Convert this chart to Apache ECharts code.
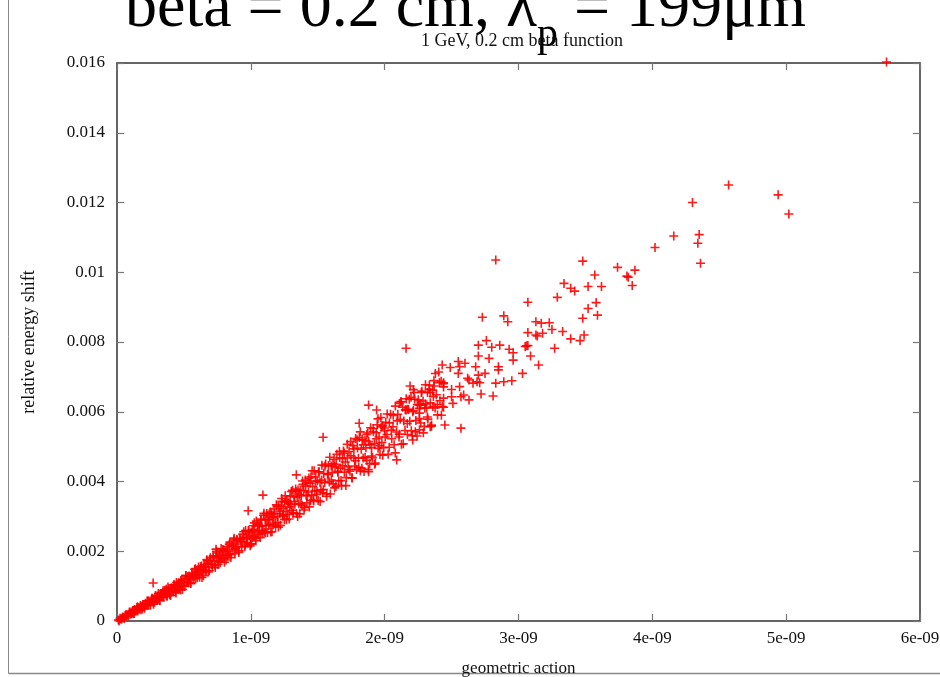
<!DOCTYPE html>
<html>
<head>
<meta charset="utf-8">
<script src="https://cdn.jsdelivr.net/npm/echarts@6/dist/echarts.min.js"></script>
<style>
html,body{margin:0;padding:0;background:#fff;}
#chart{width:940px;height:677px;}
</style>
</head>
<body>
<div id="chart"></div>
<script>
// Units in the arrays: action in 1e-9, energy shift in 1e-3 (converted when building the series)
const slideTitle = ['beta = 0.2 cm, \u03bb', 'p', ' = 199\u03bcm'];
const chartTitle = '1 GeV, 0.2 cm beta function';
const xAxisName = 'geometric action';
const yAxisName = 'relative energy shift';
const xTickLabels = ['0', '1e-09', '2e-09', '3e-09', '4e-09', '5e-09', '6e-09'];
const yTickLabels = ['0', '0.002', '0.004', '0.006', '0.008', '0.01', '0.012', '0.014', '0.016'];

// dense band, action 0 .. 0.5 (1e-9), shift (1e-3)
const bandA = [
 [0.010,0.03],[0.016,0.01],[0.023,0.08],[0.027,0.055],[0.036,0.054],[0.041,0.114],[0.049,0.107],
 [0.054,0.075],[0.060,0.152],[0.068,0.186],[0.073,0.142],[0.079,0.18],[0.086,0.15],[0.092,0.256],
 [0.098,0.203],[0.105,0.261],[0.111,0.212],[0.118,0.273],[0.122,0.209],[0.130,0.329],[0.136,0.30],
 [0.141,0.28],[0.149,0.39],[0.155,0.29],[0.160,0.378],[0.168,0.355],[0.174,0.44],[0.179,0.324],
 [0.187,0.424],[0.193,0.474],[0.198,0.407],[0.206,0.363],[0.212,0.506],[0.217,0.482],[0.225,0.441],
 [0.231,0.573],[0.237,0.574],[0.244,0.532],[0.250,0.452],[0.256,0.603],[0.263,0.654],[0.268,0.548],
 [0.275,0.616],[0.281,0.539],[0.287,0.733],[0.294,0.619],[0.300,0.715],[0.306,0.61],[0.313,0.711],
 [0.318,0.589],[0.325,0.792],[0.331,0.728],[0.337,0.687],[0.344,0.867],[0.350,0.682],[0.356,0.826],
 [0.362,0.77],[0.369,0.915],[0.375,0.707],[0.381,0.858],[0.388,0.934],[0.393,0.816],[0.400,0.734],
 [0.406,0.955],[0.412,0.912],[0.419,0.834],[0.425,1.036],[0.431,0.984],[0.437,0.835],[0.444,1.103],
 [0.450,0.966],[0.456,0.902],[0.462,1.10],[0.469,1.022],[0.475,0.886],[0.481,1.121],[0.487,1.191],
 [0.494,1.02],[0.500,1.115],[0.27,1.09],
 [0.105,0.2],[0.117,0.303],[0.129,0.217],[0.141,0.318],[0.153,0.408],[0.165,0.34],[0.177,0.429],
 [0.189,0.345],[0.201,0.471],[0.213,0.459],[0.225,0.576],[0.237,0.455],[0.249,0.548],[0.261,0.636],
 [0.273,0.481],[0.285,0.651],[0.297,0.605],[0.309,0.786],[0.321,0.591],[0.333,0.785],[0.345,0.732],
 [0.357,0.882],[0.369,0.725],[0.381,0.977],[0.393,0.752],[0.405,0.929],[0.417,0.862],[0.429,1.039],
 [0.441,0.805],[0.453,1.005],[0.465,0.937],[0.477,1.163],[0.489,0.906]
];
// dense band, action 0.5 .. 1.0
const bandB = [
 [0.507,0.993],[0.514,1.297],[0.521,1.114],[0.529,1.264],[0.536,1.103],[0.543,1.252],[0.551,1.072],
 [0.558,1.374],[0.565,1.278],[0.573,1.219],[0.580,1.483],[0.587,1.21],[0.595,1.425],[0.602,1.343],
 [0.609,1.55],[0.617,1.251],[0.624,1.469],[0.631,1.575],[0.639,1.414],[0.646,1.296],[0.653,1.61],
 [0.661,1.553],[0.668,1.442],[0.675,1.723],[0.683,1.654],[0.690,1.449],[0.697,1.817],[0.705,1.633],
 [0.712,1.547],[0.719,1.819],[0.727,1.714],[0.734,1.531],[0.741,1.85],[0.749,1.949],[0.756,1.717],
 [0.763,1.846],[0.771,1.68],[0.778,2.078],[0.785,1.829],[0.793,2.021],[0.800,1.801],[0.807,1.991],
 [0.815,1.748],[0.822,2.139],[0.829,2.007],[0.837,1.923],[0.844,2.261],[0.851,1.90],[0.859,2.173],
 [0.866,2.061],[0.873,2.323],[0.881,1.93],[0.888,2.206],[0.895,2.337],[0.903,2.123],[0.910,1.967],
 [0.917,2.364],[0.925,2.284],[0.932,2.137],[0.939,2.49],[0.947,2.397],[0.954,2.131],[0.961,2.594],
 [0.969,2.354],[0.976,2.24],[0.983,2.578],[0.991,2.44],[0.998,2.204],[0.98,3.16],[0.74,2.06],
 [0.503,1.125],[0.515,1.307],[0.527,1.117],[0.539,1.292],[0.551,1.085],[0.563,1.332],[0.575,1.286],
 [0.587,1.501],[0.599,1.24],[0.611,1.405],[0.623,1.554],[0.635,1.248],[0.647,1.548],[0.659,1.451],
 [0.671,1.759],[0.683,1.403],[0.695,1.728],[0.707,1.625],[0.719,1.866],[0.731,1.596],[0.743,1.996],
 [0.755,1.622],[0.767,1.897],[0.779,1.783],[0.791,2.052],[0.803,1.684],[0.815,1.981],[0.827,1.873],
 [0.839,2.204],[0.851,1.818],[0.863,2.128],[0.875,2.376],[0.887,2.086],[0.899,2.324],[0.911,2.012],
 [0.923,2.351],[0.935,2.272],[0.947,2.561],[0.959,2.179],[0.971,2.40],[0.983,2.594],[0.995,2.155]
];
// dense band, action 1.0 .. 1.5
const bandC = [
 [1.005,2.216],[1.011,2.616],[1.017,2.731],[1.023,2.428],[1.029,2.586],[1.035,2.361],[1.041,2.867],
 [1.047,2.537],[1.053,2.775],[1.059,2.482],[1.065,2.722],[1.071,2.391],[1.077,2.896],[1.083,2.714],
 [1.089,2.592],[1.095,3.032],[1.101,2.546],[1.107,2.896],[1.113,2.737],[1.119,3.079],[1.125,2.541],
 [1.131,2.903],[1.137,3.071],[1.143,2.771],[1.149,2.55],[1.155,3.077],[1.161,2.958],[1.167,2.75],
 [1.173,3.221],[1.179,3.082],[1.185,2.709],[1.191,3.332],[1.197,2.991],[1.203,2.827],[1.209,3.282],
 [1.215,3.079],[1.221,2.743],[1.227,3.282],[1.233,3.433],[1.239,3.015],[1.245,3.223],[1.251,2.913],
 [1.257,3.588],[1.263,3.139],[1.269,3.452],[1.275,3.054],[1.281,3.369],[1.287,2.925],[1.293,3.588],
 [1.299,3.341],[1.305,3.174],[1.311,3.748],[1.317,3.103],[1.323,3.558],[1.329,3.345],[1.335,3.785],
 [1.341,3.079],[1.347,3.545],[1.353,3.758],[1.359,3.364],[1.365,3.073],[1.371,3.749],[1.377,3.59],
 [1.383,3.318],[1.389,3.917],[1.395,3.734],[1.401,3.252],[1.407,4.043],[1.413,3.603],[1.419,3.389],
 [1.425,3.964],[1.431,3.701],[1.437,3.271],[1.443,3.949],[1.449,4.135],[1.455,3.602],[1.461,3.86],
 [1.467,3.466],[1.473,4.31],[1.479,3.742],[1.485,4.128],[1.491,3.626],[1.497,4.016],
 [1.09,3.61],[1.34,4.19],
 [1.002,2.54],[1.014,2.394],[1.026,2.814],[1.038,2.30],[1.050,2.749],[1.062,2.59],[1.074,2.924],
 [1.086,2.52],[1.098,3.089],[1.110,2.53],[1.122,2.919],[1.134,2.737],[1.146,3.121],[1.158,2.557],
 [1.170,2.988],[1.182,2.809],[1.194,3.296],[1.206,2.692],[1.218,3.149],[1.230,3.514],[1.242,3.052],
 [1.254,3.405],[1.266,2.902],[1.278,3.414],[1.290,3.273],[1.302,3.713],[1.314,3.09],[1.326,3.422],
 [1.338,3.714],[1.350,2.994],[1.362,3.623],[1.374,3.367],[1.386,4.015],[1.398,3.183],[1.410,3.868],
 [1.422,3.599],[1.434,4.097],[1.446,3.456],[1.458,4.308],[1.470,3.439],[1.482,4.01],[1.494,3.719]
];
// dense band, action 1.5 .. 2.0
const bandD = [
 [1.503,3.457],[1.510,4.279],[1.517,3.973],[1.524,3.765],[1.531,4.469],[1.538,3.675],[1.545,4.23],
 [1.552,3.969],[1.559,4.502],[1.566,3.646],[1.573,4.208],[1.580,4.461],[1.587,3.988],[1.594,3.64],
 [1.601,4.445],[1.608,4.255],[1.615,3.932],[1.622,4.639],[1.629,4.42],[1.636,3.855],[1.643,4.781],
 [1.650,4.266],[1.657,4.017],[1.664,4.682],[1.671,4.379],[1.678,3.882],[1.685,4.663],[1.692,4.875],
 [1.699,4.265],[1.706,4.559],[1.713,4.11],[1.720,5.069],[1.727,4.425],[1.734,4.861],[1.741,4.296],
 [1.748,4.734],[1.755,4.109],[1.762,5.028],[1.769,4.681],[1.776,4.446],[1.783,5.232],[1.790,4.342],
 [1.797,4.96],[1.804,4.665],[1.811,5.26],[1.818,4.30],[1.825,4.926],[1.832,5.207],[1.839,4.675],
 [1.846,4.286],[1.853,5.181],[1.860,4.967],[1.867,4.605],[1.874,5.39],[1.881,5.144],[1.888,4.512],
 [1.895,5.542],[1.902,4.966],[1.909,4.686],[1.916,5.425],[1.923,5.084],[1.930,4.531],[1.937,5.396],
 [1.944,5.629],[1.951,4.95],[1.958,5.274],[1.965,4.774],[1.972,5.835],[1.979,5.118],[1.986,5.60],
 [1.993,4.971],[2.000,5.455],
 [1.54,5.27],[1.81,5.67],[1.88,6.19],[1.88,4.28],[1.94,6.05],
 [1.506,4.276],[1.518,3.423],[1.530,4.04],[1.542,3.766],[1.554,4.446],[1.566,3.575],[1.578,4.204],
 [1.590,4.697],[1.602,4.042],[1.614,4.509],[1.626,3.816],[1.638,4.491],[1.650,4.291],[1.662,4.858],
 [1.674,4.029],[1.686,4.451],[1.698,4.815],[1.710,3.883],[1.722,4.674],[1.734,4.341],[1.746,5.143],
 [1.758,4.097],[1.770,4.935],[1.782,4.596],[1.794,5.194],[1.806,4.41],[1.818,5.424],[1.830,4.378],
 [1.842,5.05],[1.854,4.698],[1.866,5.346],[1.878,4.341],[1.890,5.057],[1.902,4.731],[1.914,5.52],
 [1.926,4.497],[1.938,5.226],[1.950,5.796],[1.962,5.026],[1.974,5.565],[1.986,4.753],[1.998,5.532]
];
// dense band, action 2.0 .. 2.45
const bandE = [
 [2.008,5.695],[2.017,5.348],[2.026,4.778],[2.035,5.681],[2.044,5.927],[2.053,5.227],[2.062,5.569],
 [2.071,5.054],[2.080,6.162],[2.089,5.421],[2.098,5.927],[2.107,5.278],[2.116,5.787],[2.125,5.067],
 [2.134,6.13],[2.143,5.733],[2.152,5.464],[2.161,6.374],[2.170,5.348],[2.179,6.065],[2.188,5.727],
 [2.197,6.416],[2.206,5.311],[2.215,6.036],[2.224,6.363],[2.233,5.75],[2.242,5.304],[2.251,6.341],
 [2.260,6.096],[2.269,5.679],[2.278,6.59],[2.287,6.309],[2.296,5.58],[2.305,6.773],[2.314,6.11],
 [2.323,5.789],[2.332,6.646],[2.341,6.255],[2.350,5.617],[2.359,6.62],[2.368,6.892],[2.377,6.11],
 [2.386,6.487],[2.395,5.91],[2.404,7.141],[2.413,6.314],[2.422,6.875],[2.431,6.149],[2.440,6.712],
 [2.004,5.277],[2.019,5.937],[2.034,4.981],[2.049,5.472],[2.064,5.897],[2.079,4.82],[2.094,5.739],
 [2.109,5.357],[2.124,6.288],[2.139,5.08],[2.154,6.055],[2.169,5.665],[2.184,6.36],[2.199,5.456],
 [2.214,6.633],[2.229,5.425],[2.244,6.205],[2.259,5.802],[2.274,6.553],[2.289,5.395],[2.304,6.227],
 [2.319,5.851],[2.334,6.769],[2.349,5.587],[2.364,6.435],[2.379,7.096],[2.394,6.209],[2.409,6.836],
 [2.424,5.898],[2.439,6.805]
];
// scattered points, action > 2 (1e-9), shift (1e-3)
const sparsePoints = [
 [2.83,10.35],[4.16,11.04],[4.35,11.08],[4.34,10.83],[4.36,10.26],[4.02,10.71],[3.48,10.32],
 [3.57,9.92],[3.74,10.14],[3.87,10.06],[3.81,9.89],[3.82,9.86],[3.85,9.62],[3.52,9.59],
 [3.62,9.59],[3.34,9.68],[3.39,9.54],[3.42,9.46],[3.29,9.28],[3.07,9.14],[3.58,9.13],
 [3.52,8.96],[3.59,8.77],[3.48,8.68],[2.73,8.71],[2.89,8.75],[2.92,8.58],[3.13,8.58],
 [3.17,8.54],[3.23,8.55],[3.25,8.36],[3.07,8.27],[3.14,8.17],[3.18,8.25],[3.33,8.30],
 [3.49,8.20],[3.39,8.09],[3.46,8.04],[2.70,7.91],[2.76,8.04],[2.80,7.85],[2.86,7.91],
 [3.06,7.89],[3.05,7.87],[3.07,7.90],[2.93,7.79],[2.96,7.69],[2.96,7.48],[3.27,7.82],
 [3.09,7.60],[3.15,7.34],[3.03,7.10],[2.70,7.60],[2.78,7.53],[2.16,7.82],[2.43,7.34],
 [2.49,7.27],[2.55,7.44],[2.60,7.39],[2.56,7.29],[2.68,7.29],[2.85,7.29],[2.55,7.10],
 [2.62,6.96],[2.70,7.05],[2.75,7.10],[2.85,7.20],[2.83,6.82],[2.89,6.86],[2.95,6.89],
 [2.63,6.91],[2.69,6.86],[2.19,6.74],[2.22,6.55],[2.37,6.74],[2.44,6.83],[2.50,6.64],
 [2.56,6.72],[2.34,6.55],[2.44,6.39],[2.50,6.43],[2.57,6.43],[2.63,6.34],[2.72,6.51],
 [2.81,6.45],[2.51,6.24],[2.44,6.13],[2.27,6.19],[2.16,6.05],[2.21,6.00],[2.26,5.96],
 [2.30,6.10],[2.36,6.15],[2.12,6.29],[2.45,5.62],[2.57,5.53],[4.57,12.50],[4.94,12.22],
 [5.02,11.67],[4.30,12.00],[5.75,16.03],[2.32,6.55],[2.59,6.48],[2.66,6.82],[2.71,6.83],
 [2.11,6.24],[2.17,6.07],[2.26,6.19],[2.21,5.19],[2.34,5.57],[2.26,5.48],[2.09,4.62],[3.13,8.20]
];

const points = [];
[bandA, bandB, bandC, bandD, bandE, sparsePoints].forEach(function (arr) {
  arr.forEach(function (p) { points.push([p[0] * 1e-9, p[1] * 1e-3]); });
});

const serif = '"Liberation Serif", "DejaVu Serif", serif';
const plusPath = 'path://M3.7,0H5.3V3.7H9V5.3H5.3V9H3.7V5.3H0V3.7H3.7Z';

const axisLineStyle = { color: '#333', width: 1.5 };
const tickStyle = { color: '#777', width: 1.2 };

const chart = echarts.init(document.getElementById('chart'), null, { renderer: 'canvas' });
chart.setOption({
  animation: false,
  backgroundColor: '#fff',
  title: {
    text: chartTitle,
    left: 517, top: 27, textAlign: 'center',
    textStyle: { fontFamily: serif, fontSize: 18, fontWeight: 'normal', color: '#111' }
  },
  graphic: [
    { type: 'line', shape: { x1: 8.5, y1: 0, x2: 8.5, y2: 673.5 }, style: { stroke: '#888', lineWidth: 1 } },
    { type: 'line', shape: { x1: 8.5, y1: 673.5, x2: 940, y2: 673.5 }, style: { stroke: '#888', lineWidth: 1.5 } },
    {
      type: 'text', left: 125, top: -23,
      style: {
        text: '{a|' + slideTitle[0] + '}{s|' + slideTitle[1] + '}{a|' + slideTitle[2] + '}',
        rich: {
          a: { fontFamily: serif, fontSize: 64, lineHeight: 64, verticalAlign: 'top', fill: '#000' },
          s: { fontFamily: serif, fontSize: 42, lineHeight: 42, padding: [37, 0, 0, 0], verticalAlign: 'top', fill: '#000' }
        }
      }
    }
  ],
  grid: { left: 117, right: 20, top: 63, bottom: 56, containLabel: false, outerBoundsMode: 'none' },
  xAxis: [
    {
      type: 'value', min: 0, max: 6e-9, interval: 1e-9, position: 'bottom',
      name: xAxisName, nameLocation: 'middle', nameGap: 39,
      nameTextStyle: { fontFamily: serif, fontSize: 17, color: '#111' },
      axisLine: { show: true, onZero: false, lineStyle: axisLineStyle },
      axisTick: { show: true, inside: true, length: 7, lineStyle: tickStyle },
      axisLabel: { fontFamily: serif, fontSize: 17, color: '#111', margin: 9,
        formatter: function (v, i) { return xTickLabels[i]; } },
      splitLine: { show: false }
    },
    {
      type: 'value', min: 0, max: 6e-9, interval: 1e-9, position: 'top',
      axisLine: { show: true, onZero: false, lineStyle: axisLineStyle },
      axisTick: { show: true, inside: true, length: 7, lineStyle: tickStyle },
      axisLabel: { show: false }, splitLine: { show: false }
    }
  ],
  yAxis: [
    {
      type: 'value', min: 0, max: 0.016, interval: 0.002, position: 'left',
      name: yAxisName, nameLocation: 'middle', nameGap: 79, nameRotate: 90,
      nameTextStyle: { fontFamily: serif, fontSize: 18, color: '#111' },
      axisLine: { show: true, onZero: false, lineStyle: axisLineStyle },
      axisTick: { show: true, inside: true, length: 7, lineStyle: tickStyle },
      axisLabel: { fontFamily: serif, fontSize: 17, color: '#111', margin: 12,
        formatter: function (v, i) { return yTickLabels[i]; } },
      splitLine: { show: false }
    },
    {
      type: 'value', min: 0, max: 0.016, interval: 0.002, position: 'right',
      axisLine: { show: true, onZero: false, lineStyle: axisLineStyle },
      axisTick: { show: true, inside: true, length: 7, lineStyle: tickStyle },
      axisLabel: { show: false }, splitLine: { show: false }
    }
  ],
  series: [{
    type: 'scatter',
    xAxisIndex: 0, yAxisIndex: 0,
    symbol: plusPath,
    symbolSize: 9,
    itemStyle: { color: '#ff0000', opacity: 0.9 },
    data: points,
    clip: false
  }]
});
</script>
</body>
</html>
